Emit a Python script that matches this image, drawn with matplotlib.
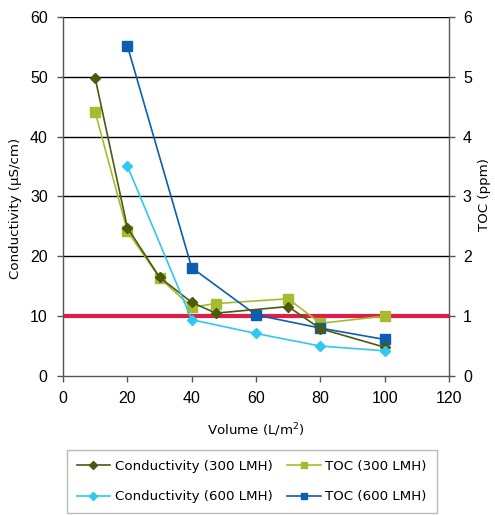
import matplotlib
matplotlib.use('Agg')
from matplotlib import pyplot as plt

# conductivity (uS/cm) on the left axis
cond300_x = [10, 20, 30, 40, 47.5, 70, 80, 100]
cond300_y = [49.8, 24.8, 16.5, 12.3, 10.5, 11.6, 7.9, 4.8]
cond600_x = [20, 40, 60, 80, 100]
cond600_y = [35.1, 9.4, 7.1, 5.0, 4.2]

# TOC (ppm) on the right axis
toc300_x = [10, 20, 30, 40, 47.5, 70, 80, 100]
toc300_y = [4.41, 2.42, 1.64, 1.15, 1.21, 1.29, 0.88, 1.0]
toc600_x = [20, 40, 60, 80, 100]
toc600_y = [5.52, 1.81, 1.02, 0.80, 0.61]

limit = 10

c_cond300 = '#4b5a10'
c_toc300 = '#a8bb2c'
c_cond600 = '#30c8f0'
c_toc600 = '#0b5fae'

fig = plt.figure(figsize=(4.95, 5.15), dpi=100)
ax = fig.add_axes([0.1273, 0.270, 0.7798, 0.697])
ax2 = ax.twinx()

ax.set_xlim(0, 120)
ax.set_ylim(0, 60)
ax2.set_ylim(0, 6)
ax.set_xticks(range(0, 121, 20))
ax.set_yticks(range(0, 61, 10))
ax2.set_yticks(range(0, 7))

for y in range(10, 61, 10):
    ax2.axhline(y / 10, color='black', lw=1.0, zorder=1)

ax2.axhline(limit / 10, color='#dc1e48', lw=3, zorder=2)

l1, = ax.plot(cond300_x, cond300_y, color=c_cond300, marker='D', ms=5.5, lw=1.2,
              label='Conductivity (300 LMH)', zorder=4)
l2, = ax.plot(cond600_x, cond600_y, color=c_cond600, marker='D', ms=5.5, lw=1.2,
              label='Conductivity (600 LMH)', zorder=4)
l3, = ax2.plot(toc300_x, toc300_y, color=c_toc300, marker='s', ms=6.5, lw=1.2,
               label='TOC (300 LMH)', zorder=3)
l4, = ax2.plot(toc600_x, toc600_y, color=c_toc600, marker='s', ms=6.5, lw=1.2,
               label='TOC (600 LMH)', zorder=3)

# conductivity axis on top so its diamonds sit over the TOC squares
ax.set_zorder(2)
ax2.set_zorder(1)
ax.patch.set_visible(False)

for a in (ax, ax2):
    a.spines['top'].set_visible(False)
    for s in ('left', 'right', 'bottom'):
        a.spines[s].set_color('#555555')
        a.spines[s].set_linewidth(1.0)
ax.spines['right'].set_visible(False)
ax2.spines['left'].set_visible(False)
ax2.spines['bottom'].set_visible(False)

tick_font = 'Liberation Sans'
ax.tick_params(axis='both', direction='out', length=4, width=1, color='#555555',
               labelsize=11.5, pad=7)
ax2.tick_params(axis='y', direction='out', length=4, width=1, color='#555555',
                labelsize=11.5, pad=6)
for lab in ax.get_xticklabels() + ax.get_yticklabels() + ax2.get_yticklabels():
    lab.set_fontfamily(tick_font)

ax.set_xlabel('Volume (L/m$^2$)', fontsize=9.6, labelpad=11)
ax.set_ylabel('Conductivity (\u00b5S/cm)', fontsize=9.6)
ax2.set_ylabel('TOC (ppm)', fontsize=9.6)
ax.yaxis.set_label_coords(-0.106, 0.468)
ax2.yaxis.set_label_coords(1.075, 0.504)

leg = fig.legend(handles=[l1, l2, l3, l4], ncol=2, loc='upper left',
                 bbox_to_anchor=(0.135, 0.126), markerscale=0.75,
                 fontsize=9.6, frameon=True, fancybox=False, edgecolor='#aaaaaa',
                 handlelength=2.5, handletextpad=0.35, columnspacing=1.1,
                 labelspacing=1.3, borderpad=0.75, borderaxespad=0)
leg.get_frame().set_linewidth(1.0)

fig.savefig('out.png', dpi=100)
